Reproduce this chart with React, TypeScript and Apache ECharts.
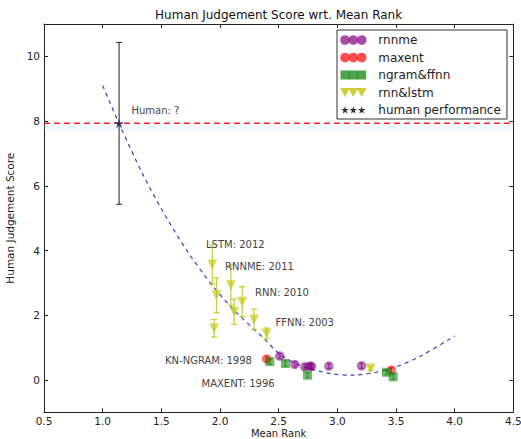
import React, { useEffect, useRef } from "react";
import * as echarts from "echarts";

const FONT = "DejaVu Sans";

const xTicks = [0.5, 1.0, 1.5, 2.0, 2.5, 3.0, 3.5, 4.0, 4.5];
const yTicks = [0, 2, 4, 6, 8, 10];

const fitX = [1.0, 1.14, 1.35, 1.55, 1.74, 1.94, 2.13, 2.37, 2.51, 2.68, 2.94, 3.13, 3.33, 3.48, 3.7, 3.96, 4.0];
const fitY = [9.1, 7.92, 6.3, 4.98, 3.88, 2.9, 2.12, 1.3, 0.8, 0.45, 0.2, 0.15, 0.24, 0.38, 0.72, 1.27, 1.36];

const rnnmeX = [2.51, 2.638, 2.723, 2.766, 2.78, 2.928, 3.206];
const rnnmeY = [0.74, 0.48, 0.41, 0.43, 0.42, 0.43, 0.44];
const maxentX = [2.397, 3.461];
const maxentY = [0.65, 0.31];
const ngramX = [2.425, 2.558, 2.746, 3.419, 3.476];
const ngramY = [0.57, 0.51, 0.15, 0.24, 0.1];
const smallErr = 0.08;

const rnnX = [1.934, 1.97, 1.95, 2.093, 2.121, 2.189, 2.29, 2.397, 3.283];
const rnnY = [3.57, 2.62, 1.6, 2.93, 2.11, 2.42, 1.87, 1.44, 0.36];
const rnnErr = [0.6, 0.54, 0.27, 0.62, 0.39, 0.46, 0.32, 0.17, 0.06];

const humanX = 1.14;
const humanY = 7.93;
const humanErr = 2.5;
const humanBandLow = 7.68;
const humanLineX = [0.5, 4.5];

const legendLabels = ["rnnme", "maxent", "ngram&ffnn", "rnn&lstm", "human performance"];

const annotations = [
  { text: "Human: ?", x: 131.5, y: 110 },
  { text: "LSTM: 2012", x: 206, y: 244 },
  { text: "RNNME: 2011", x: 225, y: 266.5 },
  { text: "RNN: 2010", x: 255, y: 292.5 },
  { text: "FFNN: 2003", x: 275.5, y: 322 },
  { text: "KN-NGRAM: 1998", x: 165, y: 360.5 },
  { text: "MAXENT: 1996", x: 201.5, y: 383 },
];

const STAR_PATH = "path://M50,0 L61,35 L98,35 L68,57 L79,91 L50,70 L21,91 L32,57 L2,35 L39,35 Z";
const STAR_PTS = [[50,0],[61,35],[98,35],[68,57],[79,91],[50,70],[21,91],[32,57],[2,35],[39,35]];

const PURPLE = "rgba(128,0,128,0.7)";
const RED = "rgba(255,0,0,0.7)";
const GREEN = "rgba(0,128,0,0.7)";
const YELLOW = "rgba(191,191,0,0.75)";
const HLINE = "#ff2222";

function zip(xs: number[], ys: number[]) {
  return xs.map((x, i) => [x, ys[i]]);
}

function errSeries(data: number[][], color: string, capW: number, width: number) {
  return {
    type: "custom",
    xAxisIndex: 0,
    yAxisIndex: 0,
    silent: true,
    encode: { x: 0, y: 1 },
    data,
    z: 3,
    renderItem: (params: any, api: any) => {
      const x = api.value(0);
      const y = api.value(1);
      const e = api.value(2);
      const t = api.coord([x, y + e]);
      const b = api.coord([x, y - e]);
      const st = { stroke: color, lineWidth: width };
      return {
        type: "group",
        children: [
          { type: "line", shape: { x1: t[0], y1: t[1], x2: b[0], y2: b[1] }, style: st },
          { type: "line", shape: { x1: t[0] - capW / 2, y1: t[1], x2: t[0] + capW / 2, y2: t[1] }, style: st },
          { type: "line", shape: { x1: b[0] - capW / 2, y1: b[1], x2: b[0] + capW / 2, y2: b[1] }, style: st },
        ],
      };
    },
  };
}

export default function App() {
  const ref = useRef<HTMLDivElement>(null);
  useEffect(() => {
    if (!ref.current) return;
    const chart = echarts.init(ref.current, undefined, { renderer: "svg" });
    const axisLine = { show: true, onZero: false, lineStyle: { color: "#222", width: 1 } };
    const tick = { show: true, inside: true, length: 4, lineStyle: { color: "#222" } };
    const labelStyle = { fontFamily: FONT, fontSize: 10.5, color: "#222" };

    const lx = 337, ly = 30, lw = 170, lh = 89;
    const rowY = (i: number) => 40 + 17.5 * i;
    const mx = [345, 353.3, 361.7];
    const legendEls: any[] = [
      { type: "rect", shape: { x: lx, y: ly, width: lw, height: lh }, style: { fill: "#fff", stroke: "#333", lineWidth: 1 }, z: 10 },
    ];
    mx.forEach((cx) => {
      legendEls.push({ type: "circle", shape: { cx, cy: rowY(0), r: 4.8 }, style: { fill: PURPLE }, z: 11 });
      legendEls.push({ type: "circle", shape: { cx, cy: rowY(1), r: 4.8 }, style: { fill: RED }, z: 11 });
      legendEls.push({ type: "rect", shape: { x: cx - 4.5, y: rowY(2) - 4.5, width: 9, height: 9 }, style: { fill: GREEN }, z: 11 });
      legendEls.push({
        type: "polygon",
        shape: { points: [[cx - 5, rowY(3) - 4.5], [cx + 5, rowY(3) - 4.5], [cx, rowY(3) + 4.5]] },
        style: { fill: YELLOW },
        z: 11,
      });
      legendEls.push({
        type: "polygon",
        shape: { points: STAR_PTS.map((p) => [cx - 4 + p[0] * 0.08, rowY(4) - 3.7 + p[1] * 0.08]) },
        style: { fill: "#333" },
        z: 11,
      });
    });
    legendLabels.forEach((t, i) => {
      legendEls.push({
        type: "text",
        x: 378.3,
        y: rowY(i),
        style: { text: t, fontFamily: FONT, fontSize: 12, fill: "#222", verticalAlign: "middle", align: "left" },
        z: 11,
      });
    });

    const annEls = annotations.map((a) => ({
      type: "text",
      x: a.x,
      y: a.y,
      style: { text: a.text, fontFamily: FONT, fontSize: 10, fill: "#444", verticalAlign: "middle", align: "left" },
      z: 5,
    }));

    chart.setOption({
      animation: false,
      backgroundColor: "#fff",
      grid: { left: 44, top: 24, right: 7.7, bottom: 26.6, containLabel: false, outerBoundsMode: "none" },
      graphic: [
        {
          type: "text",
          x: 278.6,
          y: 15,
          style: { text: "Human Judgement Score wrt. Mean Rank", fontFamily: FONT, fontSize: 12, fill: "#111", align: "center", verticalAlign: "middle" },
        },
        {
          type: "text",
          x: 278.6,
          y: 433,
          style: { text: "Mean Rank", fontFamily: FONT, fontSize: 10, fill: "#222", align: "center", verticalAlign: "middle" },
        },
        ...annEls,
        ...legendEls,
      ],
      xAxis: [
        {
          type: "value",
          position: "bottom",
          min: 0.5,
          max: 4.5,
          interval: 0.5,
          axisLine,
          axisTick: tick,
          splitLine: { show: false },
          axisLabel: { ...labelStyle, margin: 3, formatter: (v: number) => v.toFixed(1) },
        },
        {
          type: "value",
          position: "top",
          min: 0.5,
          max: 4.5,
          interval: 0.5,
          axisLine,
          axisTick: tick,
          splitLine: { show: false },
          axisLabel: { show: false },
        },
      ],
      yAxis: [
        {
          type: "value",
          position: "left",
          min: -1,
          max: 11,
          axisLine,
          axisTick: { ...tick, customValues: yTicks },
          splitLine: { show: false },
          axisLabel: { ...labelStyle, margin: 4, customValues: yTicks, formatter: (v: number) => String(v) },
          name: "Human Judgement Score",
          nameLocation: "middle",
          nameGap: 22,
          nameRotate: 90,
          nameTextStyle: { fontFamily: FONT, fontSize: 10.5, color: "#222" },
        },
        {
          type: "value",
          position: "right",
          min: -1,
          max: 11,
          axisLine,
          axisTick: { ...tick, customValues: yTicks },
          splitLine: { show: false },
          axisLabel: { show: false, customValues: yTicks },
        },
      ],
      series: [
        {
          type: "custom",
          xAxisIndex: 0,
          yAxisIndex: 0,
          silent: true,
          encode: { x: 0, y: 1 },
          data: [[humanLineX[0], humanY, humanLineX[1]]],
          z: 3,
          renderItem: (params: any, api: any) => {
            const a = api.coord([api.value(0), api.value(1)]);
            const b = api.coord([api.value(2), api.value(1)]);
            const lo = api.coord([api.value(0), humanBandLow]);
            return {
              type: "group",
              children: [
                {
                  type: "rect",
                  shape: { x: a[0], y: a[1], width: b[0] - a[0], height: lo[1] - a[1] },
                  style: { fill: "rgba(173,216,235,0.16)" },
                },
                {
                  type: "line",
                  shape: { x1: a[0], y1: a[1], x2: b[0], y2: b[1] },
                  style: { stroke: HLINE, lineWidth: 1.5, lineDash: [6, 4] },
                },
              ],
            };
          },
        },
        {
          type: "line",
          xAxisIndex: 0,
          yAxisIndex: 0,
          data: zip(fitX, fitY),
          showSymbol: false,
          smooth: 0.3,
          color: "#3a3ac8",
          lineStyle: { color: "#3a3ac8", width: 1.2, type: [4, 4] },
          z: 2,
          silent: true,
        },
        errSeries([[humanX, humanY, humanErr]], "#333", 6, 1.1),
        errSeries(rnnX.map((x, i) => [x, rnnY[i], rnnErr[i]]), "rgba(191,191,0,0.8)", 6, 1.2),
        errSeries(rnnmeX.map((x, i) => [x, rnnmeY[i], smallErr]), PURPLE, 4, 1),
        errSeries(maxentX.map((x, i) => [x, maxentY[i], smallErr]), RED, 4, 1),
        errSeries(ngramX.map((x, i) => [x, ngramY[i], smallErr]), GREEN, 4, 1),
        {
          type: "scatter",
          name: "rnnme",
          data: zip(rnnmeX, rnnmeY),
          symbol: "circle",
          symbolSize: 9.5,
          itemStyle: { color: PURPLE },
          z: 4,
        },
        {
          type: "scatter",
          name: "maxent",
          data: zip(maxentX, maxentY),
          symbol: "circle",
          symbolSize: 9.5,
          itemStyle: { color: RED },
          z: 4,
        },
        {
          type: "scatter",
          name: "ngram&ffnn",
          data: zip(ngramX, ngramY),
          symbol: "rect",
          symbolSize: 9,
          itemStyle: { color: GREEN },
          z: 4,
        },
        {
          type: "scatter",
          name: "rnn&lstm",
          data: zip(rnnX, rnnY),
          symbol: "triangle",
          symbolRotate: 180,
          symbolSize: [10, 10],
          itemStyle: { color: YELLOW },
          z: 4,
        },
        {
          type: "scatter",
          name: "human performance",
          data: [[humanX, humanY]],
          symbol: STAR_PATH,
          symbolSize: 10,
          itemStyle: { color: "#2a2658" },
          z: 6,
        },
      ],
    });
    return () => chart.dispose();
  }, []);
  return <div ref={ref} style={{ position: "fixed", left: 0, top: 0, width: 521, height: 439 }} />;
}
